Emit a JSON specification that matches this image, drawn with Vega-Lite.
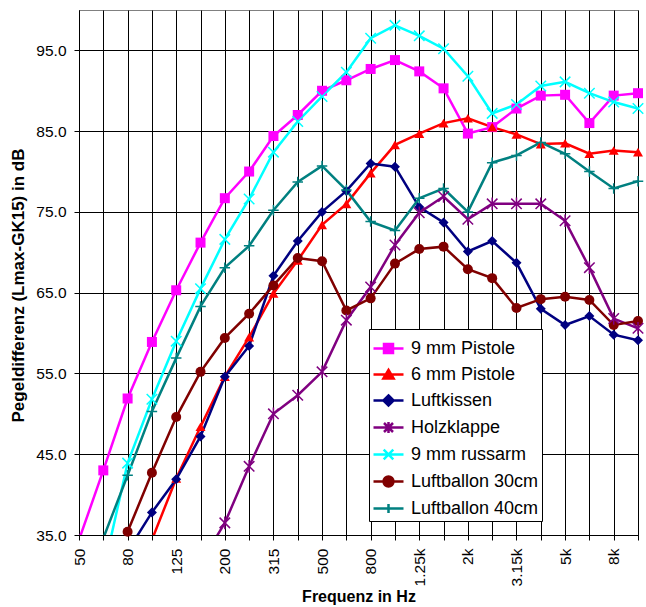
{
  "$schema": "https://vega.github.io/schema/vega-lite/v6.json",
  "width": 559,
  "height": 525,
  "autosize": {"type": "none"},
  "padding": {"left": 79, "top": 10, "right": 8, "bottom": 72},
  "background": "white",
  "config": {
    "font": "Liberation Sans",
    "view": {"stroke": "#808080", "strokeWidth": 1},
    "axis": {
      "gridColor": "#000000", "gridOpacity": 1, "gridWidth": 1,
      "domainColor": "#000000", "tickColor": "#000000", "tickSize": 5,
      "labelColor": "#000000", "titleColor": "#000000",
      "labelFont": "Liberation Sans", "titleFont": "Liberation Sans",
      "labelFontSize": 15.5, "titleFontWeight": "bold"
    }
  },
  "data": {"values": [
    {"f": "50", "9 mm Pistole": 34.4, "6 mm Pistole": null, "Luftkissen": null, "Holzklappe": null, "9 mm russarm": null, "Luftballon 30cm": null, "Luftballon 40cm": null},
    {"f": "63", "9 mm Pistole": 43.0, "6 mm Pistole": null, "Luftkissen": null, "Holzklappe": null, "9 mm russarm": 30.5, "Luftballon 30cm": 28.0, "Luftballon 40cm": 34.6},
    {"f": "80", "9 mm Pistole": 51.9, "6 mm Pistole": null, "Luftkissen": 33.0, "Holzklappe": null, "9 mm russarm": 43.9, "Luftballon 30cm": 35.4, "Luftballon 40cm": 42.4},
    {"f": "100", "9 mm Pistole": 58.9, "6 mm Pistole": 34.4, "Luftkissen": 37.8, "Holzklappe": null, "9 mm russarm": 51.8, "Luftballon 30cm": 42.7, "Luftballon 40cm": 50.3},
    {"f": "125", "9 mm Pistole": 65.3, "6 mm Pistole": 42.0, "Luftkissen": 41.9, "Holzklappe": null, "9 mm russarm": 59.0, "Luftballon 30cm": 49.6, "Luftballon 40cm": 56.9},
    {"f": "160", "9 mm Pistole": 71.2, "6 mm Pistole": 48.4, "Luftkissen": 47.2, "Holzklappe": 31.5, "9 mm russarm": 65.5, "Luftballon 30cm": 55.2, "Luftballon 40cm": 63.3},
    {"f": "200", "9 mm Pistole": 76.7, "6 mm Pistole": 54.6, "Luftkissen": 54.6, "Holzklappe": 36.5, "9 mm russarm": 71.6, "Luftballon 30cm": 59.4, "Luftballon 40cm": 68.1},
    {"f": "250", "9 mm Pistole": 80.0, "6 mm Pistole": 59.5, "Luftkissen": 58.4, "Holzklappe": 43.5, "9 mm russarm": 76.6, "Luftballon 30cm": 62.4, "Luftballon 40cm": 70.8},
    {"f": "315", "9 mm Pistole": 84.4, "6 mm Pistole": 64.9, "Luftkissen": 67.1, "Holzklappe": 50.0, "9 mm russarm": 82.4, "Luftballon 30cm": 65.9, "Luftballon 40cm": 75.2},
    {"f": "400", "9 mm Pistole": 87.0, "6 mm Pistole": 69.0, "Luftkissen": 71.4, "Holzklappe": 52.3, "9 mm russarm": 86.2, "Luftballon 30cm": 69.3, "Luftballon 40cm": 78.7},
    {"f": "500", "9 mm Pistole": 90.0, "6 mm Pistole": 73.4, "Luftkissen": 75.0, "Holzklappe": 55.2, "9 mm russarm": 89.3, "Luftballon 30cm": 68.9, "Luftballon 40cm": 80.7},
    {"f": "630", "9 mm Pistole": 91.3, "6 mm Pistole": 76.0, "Luftkissen": 77.6, "Holzklappe": 61.6, "9 mm russarm": 92.3, "Luftballon 30cm": 62.8, "Luftballon 40cm": 77.7},
    {"f": "800", "9 mm Pistole": 92.7, "6 mm Pistole": 79.8, "Luftkissen": 81.0, "Holzklappe": 65.7, "9 mm russarm": 96.5, "Luftballon 30cm": 64.3, "Luftballon 40cm": 73.8},
    {"f": "1k", "9 mm Pistole": 93.8, "6 mm Pistole": 83.3, "Luftkissen": 80.6, "Holzklappe": 70.9, "9 mm russarm": 98.1, "Luftballon 30cm": 68.6, "Luftballon 40cm": 72.7},
    {"f": "1.25k", "9 mm Pistole": 92.4, "6 mm Pistole": 84.7, "Luftkissen": 75.6, "Holzklappe": 74.9, "9 mm russarm": 96.8, "Luftballon 30cm": 70.4, "Luftballon 40cm": 76.7},
    {"f": "1.6k", "9 mm Pistole": 90.3, "6 mm Pistole": 86.0, "Luftkissen": 73.7, "Holzklappe": 76.9, "9 mm russarm": 95.2, "Luftballon 30cm": 70.7, "Luftballon 40cm": 77.9},
    {"f": "2k", "9 mm Pistole": 84.7, "6 mm Pistole": 86.6, "Luftkissen": 70.1, "Holzklappe": 74.1, "9 mm russarm": 91.8, "Luftballon 30cm": 67.9, "Luftballon 40cm": 75.0},
    {"f": "2.5k", "9 mm Pistole": 85.5, "6 mm Pistole": 85.5, "Luftkissen": 71.4, "Holzklappe": 76.0, "9 mm russarm": 87.2, "Luftballon 30cm": 66.8, "Luftballon 40cm": 81.1},
    {"f": "3.15k", "9 mm Pistole": 87.8, "6 mm Pistole": 84.6, "Luftkissen": 68.7, "Holzklappe": 76.0, "9 mm russarm": 88.3, "Luftballon 30cm": 63.1, "Luftballon 40cm": 82.0},
    {"f": "4k", "9 mm Pistole": 89.4, "6 mm Pistole": 83.4, "Luftkissen": 63.0, "Holzklappe": 76.0, "9 mm russarm": 90.6, "Luftballon 30cm": 64.2, "Luftballon 40cm": 83.6},
    {"f": "5k", "9 mm Pistole": 89.5, "6 mm Pistole": 83.5, "Luftkissen": 61.0, "Holzklappe": 73.9, "9 mm russarm": 91.1, "Luftballon 30cm": 64.5, "Luftballon 40cm": 82.2},
    {"f": "6.3k", "9 mm Pistole": 86.0, "6 mm Pistole": 82.2, "Luftkissen": 62.1, "Holzklappe": 68.1, "9 mm russarm": 89.7, "Luftballon 30cm": 64.1, "Luftballon 40cm": 80.0},
    {"f": "8k", "9 mm Pistole": 89.4, "6 mm Pistole": 82.6, "Luftkissen": 59.8, "Holzklappe": 61.8, "9 mm russarm": 88.6, "Luftballon 30cm": 61.0, "Luftballon 40cm": 77.9},
    {"f": "10k", "9 mm Pistole": 89.7, "6 mm Pistole": 82.4, "Luftkissen": 59.1, "Holzklappe": 60.6, "9 mm russarm": 87.8, "Luftballon 30cm": 61.5, "Luftballon 40cm": 78.8}
  ]},
  "transform": [
    {"fold": ["9 mm Pistole", "6 mm Pistole", "Luftkissen", "Holzklappe", "9 mm russarm", "Luftballon 30cm", "Luftballon 40cm"], "as": ["series", "value"]}
  ],
  "encoding": {
    "x": {
      "field": "f", "type": "ordinal",
      "sort": ["50","63","80","100","125","160","200","250","315","400","500","630","800","1k","1.25k","1.6k","2k","2.5k","3.15k","4k","5k","6.3k","8k","10k"],
      "scale": {"type": "point", "padding": 0},
      "axis": {
        "title": "Frequenz in Hz", "titleFontSize": 16, "titlePadding": 3,
        "labelAngle": -90, "labelPadding": 8, "grid": true,
        "labelExpr": "indexof(['50','80','125','200','315','500','800','1.25k','2k','3.15k','5k','8k'], datum.value) >= 0 ? datum.value : ''"
      }
    },
    "y": {
      "field": "value", "type": "quantitative",
      "scale": {"domain": [35, 100], "nice": false, "zero": false},
      "axis": {
        "title": "Pegeldifferenz (Lmax-GK15) in dB", "titleFontSize": 17, "titlePadding": 8, "titleY": 275,
        "values": [35, 45, 55, 65, 75, 85, 95], "format": ".1f", "labelPadding": 8, "grid": true
      }
    }
  },
  "layer": [
    {
      "mark": {"type": "line", "strokeWidth": 2.5, "clip": true},
      "encoding": {
        "color": {
          "field": "series", "type": "nominal",
          "scale": {
            "domain": ["9 mm Pistole", "6 mm Pistole", "Luftkissen", "Holzklappe", "9 mm russarm", "Luftballon 30cm", "Luftballon 40cm"],
            "range": ["#FF00FF", "#FF0000", "#000080", "#800080", "#00FFFF", "#800000", "#008080"]
          },
          "legend": {
            "orient": "none", "legendX": 290, "legendY": 319, "title": null,
            "labelFont": "Liberation Sans", "labelFontSize": 18, "labelColor": "#000000",
            "symbolSize": 900, "symbolStrokeWidth": 2.5, "padding": 3, "rowPadding": -0.5, "labelOffset": 6,
            "strokeColor": "#000000", "fillColor": "#ffffff", "cornerRadius": 0,
            "encode": {
              "symbols": {
                "update": {
                  "shape": {"signal": "['M-1,0H1M-0.3,-0.3H0.3V0.3H-0.3Z','M-1,0H1M0,-0.3L0.34,0.27L-0.34,0.27Z','M-1,0H1M0,-0.34L0.34,0L0,0.34L-0.34,0Z','M-1,0H1M-0.3,-0.3L0.3,0.3M-0.3,0.3L0.3,-0.3M0,-0.36V0.36','M-1,0H1M-0.32,-0.32L0.32,0.32M-0.32,0.32L0.32,-0.32','M-1,0H1M0.33,0A0.33,0.33,0,1,1,-0.33,0A0.33,0.33,0,1,1,0.33,0Z','M-1,0H1M0,-0.3V0.3'][indexof(['9 mm Pistole','6 mm Pistole','Luftkissen','Holzklappe','9 mm russarm','Luftballon 30cm','Luftballon 40cm'], datum.value)]"},
                  "fill": {"scale": "color", "field": "value"},
                  "stroke": {"scale": "color", "field": "value"},
                  "strokeWidth": {"value": 2.5},
                  "opacity": {"value": 1}
                }
              }
            }
          }
        }
      }
    },
    {
      "transform": [
        {"filter": "datum.value >= 35"},
        {"filter": {"field": "series", "oneOf": ["9 mm Pistole", "6 mm Pistole", "Luftkissen", "Luftballon 30cm"]}}
      ],
      "mark": {"type": "point", "filled": true, "size": 100, "opacity": 1},
      "encoding": {
        "color": {"field": "series", "type": "nominal", "legend": null},
        "shape": {
          "field": "series", "type": "nominal", "legend": null,
          "scale": {
            "domain": ["Luftballon 40cm", "Luftballon 30cm", "9 mm russarm", "Holzklappe", "Luftkissen", "6 mm Pistole", "9 mm Pistole"],
            "range": ["M-1,0H1M0,-1V1", "circle", "M-1,-1L1,1M-1,1L1,-1", "M-1,-1L1,1M-1,1L1,-1M0,-1.2V1.2", "diamond", "triangle-up", "square"]
          }
        }
      }
    },
    {
      "transform": [
        {"filter": "datum.value >= 35"},
        {"filter": {"field": "series", "oneOf": ["Holzklappe", "9 mm russarm", "Luftballon 40cm"]}}
      ],
      "mark": {"type": "point", "filled": false, "size": 110, "strokeWidth": 1.5, "opacity": 1},
      "encoding": {
        "color": {"field": "series", "type": "nominal", "legend": null},
        "shape": {"field": "series", "type": "nominal", "legend": null}
      }
    }
  ]
}
